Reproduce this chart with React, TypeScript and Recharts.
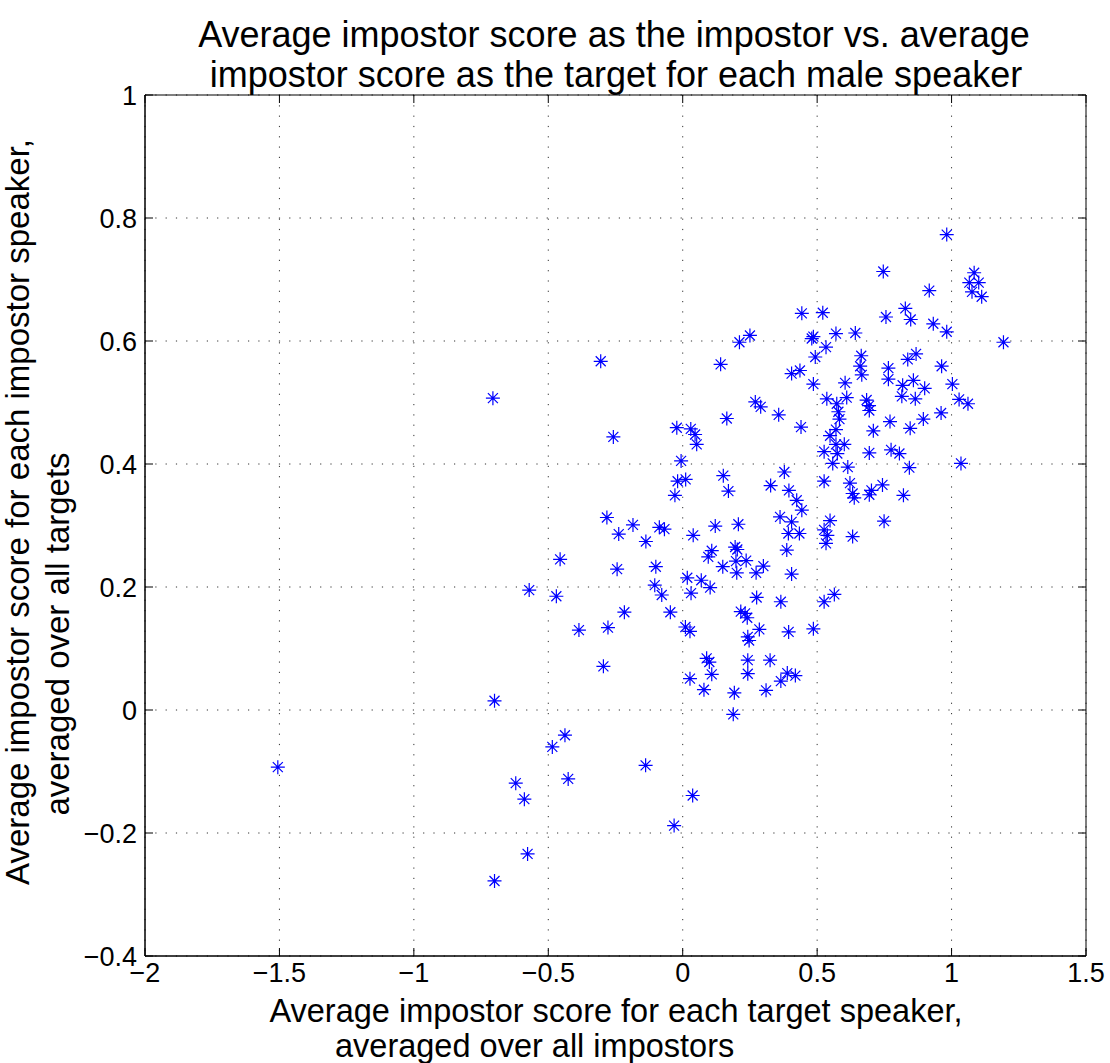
import React from 'react';
import { ScatterChart, Scatter, XAxis, YAxis, CartesianGrid, ReferenceArea } from 'recharts';

// average impostor score for each target speaker (x)
const targetScore = [
  -1.506, -0.706, -0.7, -0.7, -0.621, -0.589, -0.577, -0.485, -0.438, -0.426,
  -0.295, -0.138, -0.032, 0.037, 0.027, 0.079, 0.089, 0.099, 0.108, 0.192,
  0.188, 0.242, 0.242, 0.247, -0.571, -0.47, -0.456, -0.386, -0.278, -0.282,
  -0.244, -0.238, -0.217, -0.185, -0.137, -0.1, -0.104, -0.087, -0.068, -0.078,
  -0.046, 0.01, 0.027, 0.017, 0.031, 0.039, 0.069, 0.102, 0.095, 0.108,
  0.121, 0.149, -0.305, -0.258, 0.141, 0.164, -0.022, 0.03, 0.046, 0.052,
  -0.006, 0.011, -0.019, -0.029, 0.151, 0.17, 0.982, 0.746, 1.084, 1.066,
  1.101, 1.076, 1.112, 0.917, 0.828, 0.848, 0.756, 0.932, 0.982, 1.193,
  0.443, 0.521, 0.25, 0.211, 0.486, 0.48, 0.57, 0.642, 0.533, 0.493,
  0.664, 0.868, 0.837, 0.66, 0.765, 0.963, 0.765, 0.666, 0.405, 0.436,
  0.486, 0.604, 0.818, 0.858, 0.9, 1.003, 0.815, 0.865, 1.028, 1.061,
  0.536, 0.61, 0.684, 0.693, 0.694, 0.573, 0.579, 0.583, 0.44, 0.961,
  0.895, 0.27, 0.29, 0.357, 0.548, 0.57, 0.709, 0.771, 0.846, 0.526,
  0.57, 0.601, 0.575, 0.694, 0.775, 0.806, 1.035, 0.558, 0.614, 0.843,
  0.378, 0.526, 0.622, 0.743, 0.702, 0.694, 0.632, 0.638, 0.821, 0.327,
  0.395, 0.424, 0.443, 0.362, 0.405, 0.393, 0.434, 0.207, 0.548, 0.526,
  0.538, 0.533, 0.632, 0.749, 0.195, 0.203, 0.198, 0.236, 0.201, 0.273,
  0.3, 0.387, 0.405, 0.275, 0.365, 0.526, 0.564, 0.216, 0.232, 0.24,
  0.285, 0.394, 0.486, 0.242, 0.325, 0.31, 0.365, 0.389, 0.419,
];

// average impostor score for each impostor speaker (y)
const impostorScore = [
  -0.093, 0.507, 0.015, -0.278, -0.119, -0.145, -0.234, -0.06, -0.041, -0.112,
  0.071, -0.09, -0.188, -0.139, 0.051, 0.033, 0.084, 0.078, 0.058, 0.028,
  -0.007, 0.081, 0.059, 0.113, 0.195, 0.185, 0.245, 0.13, 0.134, 0.313,
  0.229, 0.286, 0.159, 0.301, 0.274, 0.233, 0.203, 0.297, 0.294, 0.187,
  0.159, 0.135, 0.128, 0.215, 0.19, 0.284, 0.211, 0.199, 0.249, 0.259,
  0.299, 0.233, 0.567, 0.444, 0.562, 0.474, 0.459, 0.457, 0.448, 0.432,
  0.405, 0.375, 0.372, 0.349, 0.381, 0.356, 0.773, 0.713, 0.711, 0.695,
  0.695, 0.68, 0.672, 0.682, 0.653, 0.635, 0.639, 0.628, 0.615, 0.598,
  0.645, 0.646, 0.609, 0.598, 0.607, 0.604, 0.612, 0.613, 0.59, 0.574,
  0.576, 0.579, 0.57, 0.559, 0.556, 0.559, 0.538, 0.545, 0.547, 0.552,
  0.53, 0.532, 0.528, 0.536, 0.523, 0.53, 0.51, 0.506, 0.505, 0.498,
  0.506, 0.508, 0.504, 0.495, 0.487, 0.498, 0.485, 0.473, 0.46, 0.483,
  0.473, 0.501, 0.493, 0.48, 0.446, 0.456, 0.454, 0.469, 0.458, 0.42,
  0.432, 0.432, 0.417, 0.418, 0.423, 0.417, 0.401, 0.401, 0.395, 0.394,
  0.387, 0.372, 0.369, 0.366, 0.357, 0.35, 0.352, 0.345, 0.349, 0.365,
  0.357, 0.341, 0.325, 0.314, 0.306, 0.287, 0.287, 0.302, 0.308, 0.293,
  0.284, 0.271, 0.282, 0.307, 0.265, 0.261, 0.242, 0.243, 0.223, 0.223,
  0.234, 0.26, 0.221, 0.183, 0.176, 0.176, 0.188, 0.16, 0.157, 0.15,
  0.131, 0.127, 0.132, 0.119, 0.081, 0.032, 0.047, 0.06, 0.056,
];

const xTicks = [-2, -1.5, -1, -0.5, 0, 0.5, 1, 1.5];
const yTicks = [-0.4, -0.2, 0, 0.2, 0.4, 0.6, 0.8, 1];

const titleLines = [
  'Average impostor score as the impostor vs. average',
  'impostor score as the target for each male speaker',
];
const xLabelLines = [
  'Average impostor score for each target speaker,',
  'averaged over all impostors',
];
const yLabelLines = [
  'Average impostor score for each impostor speaker,',
  'averaged over all targets',
];

const W = 1110;
const H = 1063;
const MARGIN = { top: 95, right: 24, bottom: 0, left: 0 };
const Y_AXIS_W = 145;
const X_AXIS_H = 107;
const PLOT_W = W - MARGIN.left - MARGIN.right - Y_AXIS_W;
const PLOT_H = H - MARGIN.top - MARGIN.bottom - X_AXIS_H;
const TICK_LEN = 8;
const FONT = '"Liberation Sans", Arial, Helvetica, sans-serif';

const points = targetScore.map((x, i) => ({ x, y: impostorScore[i] }));

const fmt = (v: number) => String(v).replace('-', '\u2212');

// matlab style '*' marker
const Asterisk = (props: any) => {
  const { cx, cy } = props;
  if (cx == null || cy == null) return null;
  const r = 7;
  const d = 5;
  return (
    <path
      d={`M${cx - r},${cy}H${cx + r}M${cx},${cy - r}V${cy + r}M${cx - d},${cy - d}L${cx + d},${cy + d}M${cx - d},${cy + d}L${cx + d},${cy - d}`}
      stroke="#0000ff"
      strokeWidth={1.2}
      fill="none"
    />
  );
};

// tick marks point inward, on bottom and top edges
const XTick = (props: any) => {
  const { x, y, payload } = props;
  return (
    <g>
      <line x1={x} y1={y} x2={x} y2={y - TICK_LEN} stroke="#000" />
      <line x1={x} y1={y - PLOT_H} x2={x} y2={y - PLOT_H + TICK_LEN} stroke="#000" />
      <text x={x} y={y + 26} textAnchor="middle" fontSize={27} fontFamily={FONT} fill="#000">
        {fmt(payload.value)}
      </text>
    </g>
  );
};

const YTick = (props: any) => {
  const { x, y, payload } = props;
  return (
    <g>
      <line x1={x} y1={y} x2={x + TICK_LEN} y2={y} stroke="#000" />
      <line x1={x + PLOT_W} y1={y} x2={x + PLOT_W - TICK_LEN} y2={y} stroke="#000" />
      <text x={x - 8} y={y} dy="0.36em" textAnchor="end" fontSize={27} fontFamily={FONT} fill="#000">
        {fmt(payload.value)}
      </text>
    </g>
  );
};

export default function App() {
  return (
    <div style={{ position: 'absolute', left: 0, top: 0, width: W, height: H, background: '#fff' }}>
      <ScatterChart width={W} height={H} margin={MARGIN}>
        <CartesianGrid strokeDasharray="1.2 9.1" stroke="#333" />
        <XAxis
          type="number"
          dataKey="x"
          domain={[-2, 1.5]}
          ticks={xTicks}
          interval={0}
          height={X_AXIS_H}
          tickSize={0}
          tickMargin={0}
          tickLine={false}
          axisLine={{ stroke: '#000' }}
          tick={<XTick />}
          allowDataOverflow
        />
        <YAxis
          type="number"
          dataKey="y"
          domain={[-0.4, 1]}
          ticks={yTicks}
          interval={0}
          width={Y_AXIS_W}
          tickSize={0}
          tickMargin={0}
          tickLine={false}
          axisLine={{ stroke: '#000' }}
          tick={<YTick />}
          allowDataOverflow
        />
        <Scatter data={points} shape={<Asterisk />} isAnimationActive={false} />
        <ReferenceArea x1={-2} x2={1.5} y1={-0.4} y2={1} fill="none" stroke="#000" strokeWidth={1} />
      </ScatterChart>
      <svg
        width={W}
        height={H}
        style={{ position: 'absolute', left: 0, top: 0, pointerEvents: 'none' }}
        fontFamily={FONT}
        fill="#000"
      >
        <text x={614} y={47} textAnchor="middle" fontSize={36}>{titleLines[0]}</text>
        <text x={616} y={87} textAnchor="middle" fontSize={36}>{titleLines[1]}</text>
        <text x={616} y={1022} textAnchor="middle" fontSize={32.5}>{xLabelLines[0]}</text>
        <text x={335} y={1057} textAnchor="start" fontSize={32.5}>{xLabelLines[1]}</text>
        <text x={29} y={512} textAnchor="middle" fontSize={33} transform="rotate(-90 29 512)">
          {yLabelLines[0]}
        </text>
        <text x={69} y={634} textAnchor="middle" fontSize={33} transform="rotate(-90 69 634)">
          {yLabelLines[1]}
        </text>
      </svg>
    </div>
  );
}
